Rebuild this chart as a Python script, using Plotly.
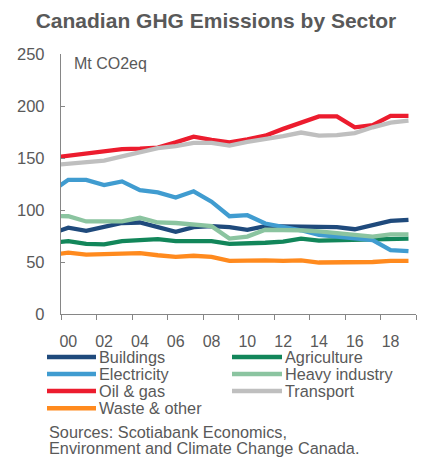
import plotly.graph_objects as go

# Annual emissions, Mt CO2eq (1999 point sits just left of the visible axis range)
years = list(range(1999, 2020))
buildings = [77, 83, 80, 83.5, 87.5, 88, 83.5, 79, 83.5, 84.5, 83.5, 81, 84.5, 84.5, 84.5, 84.5, 83.5, 81.5, 86, 89.5, 90.5]
agriculture = [68.5, 70, 67.5, 67, 70, 71.5, 72, 70, 70, 70, 67.5, 67.5, 68.5, 69.5, 72.5, 70.5, 71, 71.5, 71.5, 72.5, 72.5]
electricity = [117, 129, 129, 124, 127.5, 119, 117, 112, 118, 108, 94, 95, 87, 84, 80.5, 76, 74, 72.5, 71, 61.5, 60.5]
heavy_industry = [94.5, 94, 89, 89.5, 89, 92.5, 88, 87.5, 86, 84.5, 72.5, 74.5, 81, 81, 80.5, 79.5, 78, 75.5, 74.5, 76.5, 76.5]
oil_gas = [150, 152, 153.5, 155.5, 158.5, 159, 160, 165, 170.5, 167.5, 165, 168, 171.5, 178, 184, 190, 190, 179.5, 181.5, 190.5, 190.5]
transport = [143, 144.5, 146, 147.5, 151.5, 155.5, 159.5, 161.5, 164.5, 164.5, 162, 165.5, 168, 171, 174.5, 171.5, 172, 174, 179.5, 184, 186]
waste_other = [56.5, 59, 57, 57.5, 57.5, 58.5, 56.5, 55, 56, 55, 51, 51.5, 51.5, 51, 51.5, 49.5, 49.5, 49.5, 50, 51, 51]

series_names = ["Buildings", "Agriculture", "Electricity", "Heavy industry",
                "Oil & gas", "Transport", "Waste & other"]
series_values = [buildings, agriculture, electricity, heavy_industry,
                 oil_gas, transport, waste_other]
series_colors = ["#1f4a7c", "#12865a", "#409cd0", "#8bc4a0",
                 "#ec1c2e", "#bfbfbf", "#ff8a1e"]

label_years = list(range(2000, 2019, 2))
label_text = [f"{y % 100:02d}" for y in label_years]
y_ticks = [0, 50, 100, 150, 200, 250]

TEXT = "#595959"
AXIS = "#868686"
FONT = "Liberation Sans, Arial, sans-serif"

W, H = 423, 457
L, R, T, B = 61, 7, 54, 143
PW, PH = W - L - R, H - T - B

X0, X1 = 1999.592, 2019.42
boundaries = [X0 + k * (X1 - X0) / 10 for k in range(11)]


def px(x):
    return (x - L) / PW


def py(y):
    return (H - B - y) / PH


fig = go.Figure()
for name, vals, col in zip(series_names, series_values, series_colors):
    fig.add_trace(go.Scatter(
        x=years, y=vals, mode="lines", name=name, showlegend=False,
        line=dict(color=col, width=4.3),
    ))

fig.update_layout(
    width=W, height=H,
    margin=dict(l=L, r=R, t=T, b=B, pad=0),
    paper_bgcolor="white", plot_bgcolor="white",
    font=dict(family=FONT, size=16, color=TEXT),
    title=dict(
        text="Canadian GHG Emissions by Sector",
        font=dict(family=FONT, size=21, color=TEXT, weight="bold"),
        x=216 / W, xanchor="center", xref="container",
        y=1 - 21 / H, yanchor="middle", yref="container",
    ),
    xaxis=dict(
        range=[X0, X1], showgrid=False, zeroline=False,
        showline=True, linecolor=AXIS, linewidth=1.3,
        tickmode="array", tickvals=label_years, ticktext=label_text,
        ticks="", ticklabelstandoff=13,
        tickfont=dict(size=16, color=TEXT),
        minor=dict(tickmode="array", tickvals=boundaries, ticks="outside",
                   ticklen=5, tickwidth=1.3, tickcolor=AXIS, showgrid=False),
    ),
    yaxis=dict(
        range=[0, 250], showgrid=False, zeroline=False,
        showline=True, linecolor=AXIS, linewidth=1.3,
        tickmode="array", tickvals=y_ticks,
        ticks="inside", ticklen=4, tickwidth=1.3, tickcolor=AXIS,
        ticklabelstandoff=12,
        tickfont=dict(size=16.5, color=TEXT),
    ),
)

# unit label inside the plot area
fig.add_annotation(text="Mt CO2eq", xref="paper", yref="paper",
                   x=px(72), y=py(64), xanchor="left", yanchor="middle",
                   showarrow=False, font=dict(size=16, color=TEXT))

# legend laid out in two columns under the axis
row_y = [357.0, 374.0, 391.0, 408.2]
col_x = [(47, 96), (232, 282)]
for i, (name, col) in enumerate(zip(series_names, series_colors)):
    r, c = divmod(i, 2)
    x_a, x_b = col_x[c]
    yy = py(row_y[r])
    fig.add_shape(type="line", xref="paper", yref="paper",
                  x0=px(x_a), x1=px(x_b), y0=yy, y1=yy,
                  line=dict(color=col, width=4.5))
    fig.add_annotation(text=name, xref="paper", yref="paper",
                       x=px(x_b + 2), y=yy, xanchor="left", yanchor="middle",
                       showarrow=False, borderpad=0,
                       font=dict(size=16.3, color=TEXT))

for txt, yline in [("Sources: Scotiabank Economics,", 431.5),
                   ("Environment and Climate Change Canada.", 447.5)]:
    fig.add_annotation(text=txt, xref="paper", yref="paper",
                       x=px(48), y=py(yline), xanchor="left", yanchor="middle",
                       showarrow=False, borderpad=0,
                       font=dict(size=16.3, color=TEXT))

fig.write_html("out.html")
